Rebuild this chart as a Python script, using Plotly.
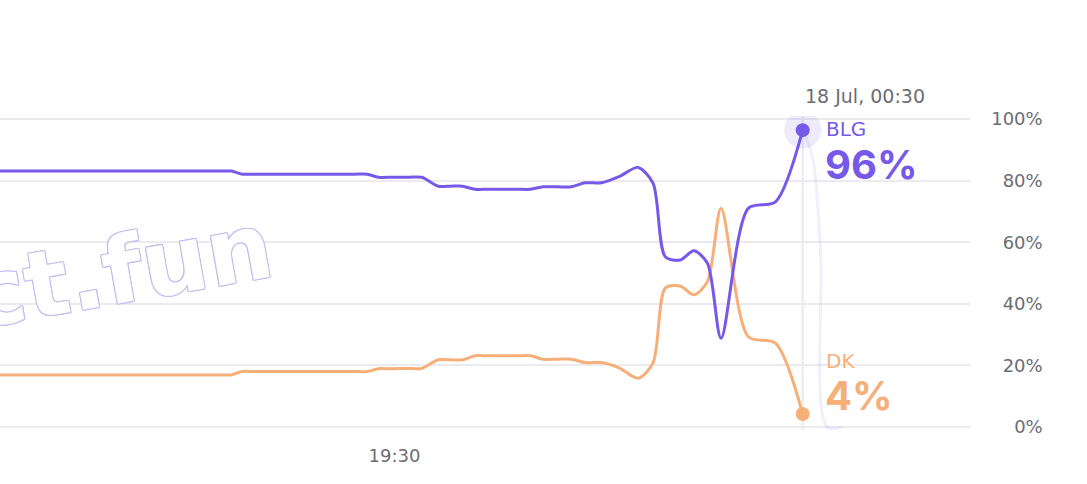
import plotly.graph_objects as go
from datetime import datetime

# ---- data ----
times = [
    "2024-07-17 14:30", "2024-07-17 17:20", "2024-07-17 17:30", "2024-07-17 17:38",
    "2024-07-17 17:48", "2024-07-17 19:00", "2024-07-17 19:10", "2024-07-17 19:18",
    "2024-07-17 19:28", "2024-07-17 19:40", "2024-07-17 19:50", "2024-07-17 20:02",
    "2024-07-17 20:11", "2024-07-17 20:20", "2024-07-17 20:29", "2024-07-17 20:39",
    "2024-07-17 21:00", "2024-07-17 21:10", "2024-07-17 21:19", "2024-07-17 21:30",
    "2024-07-17 21:40", "2024-07-17 21:50", "2024-07-17 21:56", "2024-07-17 22:02",
    "2024-07-17 22:15", "2024-07-17 22:29", "2024-07-17 22:40", "2024-07-17 22:49",
    "2024-07-17 23:00", "2024-07-17 23:10", "2024-07-17 23:20", "2024-07-17 23:30",
    "2024-07-17 23:50", "2024-07-18 00:10", "2024-07-18 00:30",
]
blg = [83.1, 83.1, 83.1, 82.1, 82.1, 82.1, 82.1, 81.1, 81.1, 81.1, 81.1, 78.2,
       78.2, 78.2, 77.2, 77.2, 77.2, 77.2, 78.0, 78.0, 78.0, 79.3, 79.3, 79.3,
       81.3, 84.3, 79.2, 55.3, 54.2, 57.2, 53.2, 28.8, 71.0, 73.1, 96.4]
dk = [16.9, 16.9, 16.9, 18.0, 18.0, 18.0, 18.0, 18.9, 18.9, 19.0, 19.0, 21.8,
      21.8, 21.8, 23.1, 23.1, 23.1, 23.1, 22.0, 22.0, 22.0, 20.9, 20.9, 20.9,
      19.2, 15.8, 20.8, 45.1, 45.8, 42.9, 47.2, 71.0, 29.3, 27.2, 4.2]

# faint trailing trace visible after the last point
fade_times = ["2024-07-18 00:30", "2024-07-18 00:37", "2024-07-18 00:43",
              "2024-07-18 00:48", "2024-07-18 00:59"]
fade_vals = [96.4, 88.0, 58.0, 0.0, 0.0]

x_tick_vals = ["2024-07-17 19:30"]
y_tick_vals = [0, 20, 40, 60, 80, 100]
y_tick_text = ["0%", "20%", "40%", "60%", "80%", "100%"]
x_range = ["2024-07-17 14:40", "2024-07-18 02:33"]
series_names = ["BLG", "DK"]

PURPLE = "#7759EA"
ORANGE = "#F7AF79"
GRAY_TXT = "#6c6c73"
GRID = "#ebebef"

fig = go.Figure()

fig.add_trace(go.Scatter(x=fade_times, y=fade_vals, mode="lines",
                         line=dict(color="rgba(119,89,234,0.10)", width=3, shape="spline", smoothing=1),
                         hoverinfo="skip", showlegend=False))

fig.add_trace(go.Scatter(x=times, y=dk, mode="lines", name=series_names[1],
                         line=dict(color=ORANGE, width=3, shape="spline", smoothing=0.8),
                         showlegend=False))
fig.add_trace(go.Scatter(x=times, y=blg, mode="lines", name=series_names[0],
                         line=dict(color=PURPLE, width=3, shape="spline", smoothing=0.8),
                         showlegend=False))

# end markers
fig.add_trace(go.Scatter(x=[times[-1]], y=[blg[-1]], mode="markers",
                         marker=dict(size=37, color="rgba(119,89,234,0.12)"),
                         showlegend=False, hoverinfo="skip"))
fig.add_trace(go.Scatter(x=[times[-1]], y=[blg[-1]], mode="markers",
                         marker=dict(size=14, color=PURPLE),
                         showlegend=False, hoverinfo="skip"))
fig.add_trace(go.Scatter(x=[times[-1]], y=[dk[-1]], mode="markers",
                         marker=dict(size=14, color=ORANGE),
                         showlegend=False, hoverinfo="skip"))

# vertical line at last time
fig.add_shape(type="line", xref="x", yref="paper", x0=times[-1], x1=times[-1],
              y0=0, y1=1.0, line=dict(color="#ebeaf2", width=2), layer="below")

last_dt = datetime.strptime(times[-1], "%Y-%m-%d %H:%M")
date_label = f"{last_dt.day} {last_dt.strftime('%b, %H:%M')}"

small_font = "DejaVu Sans"
big_font = "Inter"

annotations = [
    dict(x=times[-1], y=1, xref="x", yref="paper", text=date_label, showarrow=False,
         xanchor="left", yanchor="bottom", xshift=0, yshift=7,
         font=dict(family=small_font, size=19, color=GRAY_TXT)),
    dict(x=times[-1], y=blg[-1], xref="x", yref="y", text=series_names[0], showarrow=False,
         xanchor="left", yanchor="middle", xshift=21, yshift=1,
         font=dict(family=small_font, size=20, color=PURPLE)),
    dict(x=times[-1], y=blg[-1], xref="x", yref="y", text=f"{blg[-1]:.0f}%", showarrow=False,
         xanchor="left", yanchor="middle", xshift=20, yshift=-34,
         font=dict(family=big_font, size=40, color=PURPLE, weight=700)),
    dict(x=times[-1], y=dk[-1], xref="x", yref="y", text=series_names[1], showarrow=False,
         xanchor="left", yanchor="middle", xshift=21, yshift=53,
         font=dict(family=small_font, size=20, color=ORANGE)),
    dict(x=times[-1], y=dk[-1], xref="x", yref="y", text=f"{dk[-1]:.0f}%", showarrow=False,
         xanchor="left", yanchor="middle", xshift=20, yshift=18,
         font=dict(family=big_font, size=40, color=ORANGE, weight=700)),
]

# watermark (outlined text)
oc = "#c3bdf1"
offs = [(1, 0), (-1, 0), (0, 1), (0, -1), (1, 1), (-1, 1), (1, -1), (-1, -1)]
shadow = ", ".join(f"{dx}px {dy}px 0px {oc}" for dx, dy in offs)
annotations.append(dict(
    x=-0.0106, y=0.433, xref="paper", yref="paper", text="predict.fun", showarrow=False,
    xanchor="center", yanchor="middle", textangle=-10,
    font=dict(family="DejaVu Sans", size=92, color="white", weight=700, shadow=shadow)))

fig.update_layout(
    width=1087, height=484,
    margin=dict(l=0, r=0, t=116, b=54),
    paper_bgcolor="white", plot_bgcolor="white",
    hovermode=False,
    annotations=annotations,
    xaxis=dict(domain=[0, 0.8924], range=x_range, type="date",
               tickvals=x_tick_vals, tickformat="%H:%M",
               showgrid=False, zeroline=False, showline=False, ticks="",
               ticklabelstandoff=13,
               tickfont=dict(family=small_font, size=18, color=GRAY_TXT)),
    yaxis=dict(range=[-1, 101], tickvals=y_tick_vals, ticktext=y_tick_text,
               side="right", anchor="free", position=0.962,
               ticklabelposition="inside", ticklabeloverflow="allow",
               showgrid=True, gridcolor=GRID, gridwidth=2,
               zeroline=False, showline=False, ticks="",
               tickfont=dict(family=small_font, size=18, color=GRAY_TXT)),
)

fig.write_html("out.html")
